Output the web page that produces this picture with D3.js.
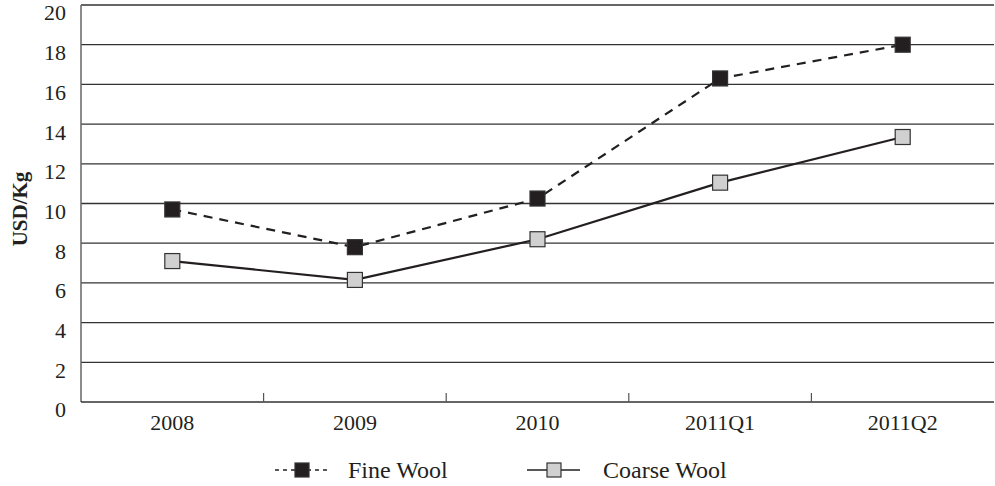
<!DOCTYPE html>
<html>
<head>
<meta charset="utf-8">
<script src="https://cdn.jsdelivr.net/npm/d3@7"></script>
<style>
  body { margin: 0; background: #fff; }
  svg text { font-family: "Liberation Serif", "Times New Roman", serif; fill: #231f20; }
</style>
</head>
<body>
<div class="container"></div>
<script>
// data
var categories = ["2008", "2009", "2010", "2011Q1", "2011Q2"];
var fineWool = [9.7, 7.8, 10.25, 16.3, 18.0];
var coarseWool = [7.1, 6.15, 8.2, 11.05, 13.35];
var yTicks = [0, 2, 4, 6, 8, 10, 12, 14, 16, 18, 20];

var W = 995, H = 486;
var margin = {top: 5, right: 1, bottom: 84, left: 81};
var width = W - margin.left - margin.right;
var height = H - margin.top - margin.bottom;

var svg = d3.select(".container").append("svg")
  .attr("width", W).attr("height", H)
  .attr("font-family", "Liberation Serif, serif");
var vis = svg.append("g")
  .attr("transform", "translate(" + margin.left + "," + margin.top + ")");

var x = d3.scaleBand().domain(categories).range([0, width]);
var y = d3.scaleLinear().domain([0, 20]).range([height, 0]);

// gridlines
vis.append("g").selectAll("line")
  .data(yTicks.filter(function(d) { return d > 0; }))
  .enter().append("line")
  .attr("x1", 0).attr("x2", width)
  .attr("y1", function(d) { return y(d); })
  .attr("y2", function(d) { return y(d); })
  .style("stroke", "#333").style("stroke-width", 1.3);

// y axis labels
vis.append("g").selectAll("text")
  .data(yTicks).enter().append("text")
  .attr("x", -15).attr("y", function(d) { return y(d); })
  .attr("dy", "0.7em")
  .style("text-anchor", "end").style("font-size", "22px")
  .text(function(d) { return d; });

// axes lines
vis.append("line").attr("x1", 0).attr("x2", 0).attr("y1", 0).attr("y2", height)
  .style("stroke", "#666").style("stroke-width", 1.5);
vis.append("line").attr("x1", 0).attr("x2", width).attr("y1", height).attr("y2", height)
  .style("stroke", "#333").style("stroke-width", 1.5);

// category ticks (inward)
vis.append("g").selectAll("line")
  .data(categories.slice(1)).enter().append("line")
  .attr("x1", function(d) { return x(d); }).attr("x2", function(d) { return x(d); })
  .attr("y1", height).attr("y2", height - 9)
  .style("stroke", "#555").style("stroke-width", 1.2);

vis.append("g").selectAll("text")
  .data(categories).enter().append("text")
  .attr("x", function(d) { return x(d) + x.bandwidth() / 2; })
  .attr("y", height + 28)
  .style("text-anchor", "middle").style("font-size", "22px")
  .text(function(d) { return d; });

// y axis title
svg.append("text")
  .attr("transform", "translate(27," + 209 + ") rotate(-90)")
  .style("text-anchor", "middle").style("font-size", "21px").style("font-weight", "bold")
  .text("USD/Kg");

var line = d3.line()
  .x(function(d, i) { return x(categories[i]) + x.bandwidth() / 2; })
  .y(function(d) { return y(d); });

var series = [
  {name: "Fine Wool", values: fineWool, dash: "9,7", fill: "#231f20"},
  {name: "Coarse Wool", values: coarseWool, dash: null, fill: "#d0d0d0"}
];

var ms = 15;
series.forEach(function(s) {
  vis.append("path")
    .attr("d", line(s.values))
    .style("fill", "none").style("stroke", "#231f20").style("stroke-width", 2.2)
    .style("stroke-dasharray", s.dash);
  vis.append("g").selectAll("rect")
    .data(s.values).enter().append("rect")
    .attr("x", function(d, i) { return x(categories[i]) + x.bandwidth() / 2 - ms / 2; })
    .attr("y", function(d) { return y(d) - ms / 2; })
    .attr("width", ms).attr("height", ms)
    .style("fill", s.fill).style("stroke", "#333").style("stroke-width", 1.2);
});

// legend
var legendX = [275, 527];
var textX = [348, 603];
var legend = svg.append("g");
series.forEach(function(s, i) {
  var g = legend.append("g").attr("transform", "translate(" + legendX[i] + ",470)");
  g.append("line").attr("x1", 0).attr("x2", 53).attr("y1", 0).attr("y2", 0)
    .style("stroke", "#231f20").style("stroke-width", 1.5)
    .style("stroke-dasharray", s.dash ? "4,4" : null);
  g.append("rect").attr("x", 20).attr("y", -7).attr("width", 14).attr("height", 14)
    .style("fill", s.fill).style("stroke", "#333").style("stroke-width", 1.2);
  legend.append("text").attr("x", textX[i]).attr("y", 470).attr("dy", "0.35em")
    .style("font-size", "24px").text(s.name);
});
</script>
</body>
</html>
